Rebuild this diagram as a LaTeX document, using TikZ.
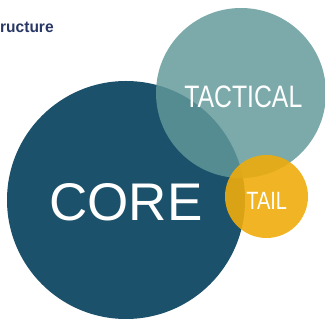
\documentclass[tikz,border=0pt]{standalone}
\usepackage{fontspec}
\setmainfont{Liberation Sans}
\definecolor{corecol}{RGB}{27,81,106}
\definecolor{taccol}{RGB}{97,153,153}
\definecolor{tailcol}{RGB}{238,172,12}
\definecolor{navytxt}{RGB}{40,55,100}
\begin{document}
\begin{tikzpicture}[x=1pt,y=1pt,
  lbl/.style={text=white,inner sep=0pt,anchor=base},
  blob/.style={circle,inner sep=0pt}]
\useasboundingbox (0,0) rectangle (325,324);
\begin{scope}
\clip (0,0) rectangle (325,324);
\node[blob,fill=corecol,minimum size=238pt] (core) at (126,124) {};
\node[blob,fill=taccol,fill opacity=0.83,minimum size=170pt] (tac) at (241,231) {};
\node[blob,fill=tailcol,fill opacity=0.9,minimum size=83pt] (tail) at (266.5,127.5) {};
\end{scope}
\node[lbl] (coret) at (126,103) {\fontsize{53}{56}\selectfont CORE};
\node[lbl] (tact) at (243.3,216) {\fontsize{31}{34}\selectfont\scalebox{0.8}[1]{TACTICAL}};
\node[lbl] (tailt) at (266.7,114) {\fontsize{25}{28}\selectfont\scalebox{0.8}[1]{TAIL}};
\node[inner sep=0pt,anchor=base west,text=navytxt] (title) at (0,291.5) {\fontsize{16}{19}\selectfont\bfseries\scalebox{0.97}[1]{ructure}};
\end{tikzpicture}
\end{document}
